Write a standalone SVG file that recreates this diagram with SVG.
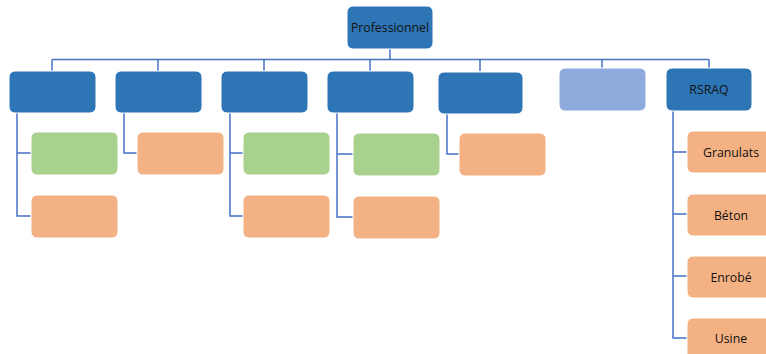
<svg xmlns="http://www.w3.org/2000/svg" width="766" height="354" viewBox="0 0 766 354">
<style>
.dk{fill:#2E75B6;stroke:#ffffff;stroke-width:1}
.lb{fill:#8FAADC;stroke:#ffffff;stroke-width:1}
.gr{fill:#A9D18E;stroke:#ffffff;stroke-width:1}
.or{fill:#F4B183;stroke:#ffffff;stroke-width:1}
.ln{fill:none;stroke:#4472C4;stroke-width:1.5}
text{font-family:"Open Sans","Liberation Sans",sans-serif;font-size:12.3px;fill:#111;text-anchor:middle;dominant-baseline:central}
</style>
<rect width="766" height="354" fill="#ffffff"/>
<g id="connectors">
<path class="ln" d="M390,49V59.5M52,59.5H709M52,59.5V71M158,59.5V71M264,59.5V71M370,59.5V71M480,59.5V71M602,59.5V68M709,59.5V68"/>
<path class="ln" d="M17,113V216H31M17,153H31"/>
<path class="ln" d="M124,113V153H137"/>
<path class="ln" d="M230,113V216H243M230,153H243"/>
<path class="ln" d="M337,113V217H353M337,154H353"/>
<path class="ln" d="M447,114V154H459"/>
<path class="ln" d="M673,111V338H687M673,152H687M673,214H687M673,276H687"/>
</g>
<g id="professionnel"><rect class="dk" x="347" y="6" width="86" height="43" rx="6"/><text x="390" y="27.5">Professionnel</text></g>
<g id="n1"><rect class="dk" x="9" y="71" width="87" height="42" rx="6"/></g>
<g id="n2"><rect class="dk" x="115" y="71" width="87" height="42" rx="6"/></g>
<g id="n3"><rect class="dk" x="221" y="71" width="87" height="42" rx="6"/></g>
<g id="n4"><rect class="dk" x="327" y="71" width="87" height="42" rx="6"/></g>
<g id="n5"><rect class="dk" x="438" y="72" width="85" height="42" rx="6"/></g>
<g id="n6"><rect class="lb" x="559" y="68" width="87" height="43" rx="6"/></g>
<g id="rsraq"><rect class="dk" x="666" y="68" width="86" height="43" rx="6"/><text x="709" y="89.5">RSRAQ</text></g>
<g id="c1a"><rect class="gr" x="31" y="132" width="87" height="43" rx="6"/></g>
<g id="c1b"><rect class="or" x="31" y="195" width="87" height="43" rx="6"/></g>
<g id="c2a"><rect class="or" x="137" y="132" width="87" height="43" rx="6"/></g>
<g id="c3a"><rect class="gr" x="243" y="132" width="87" height="43" rx="6"/></g>
<g id="c3b"><rect class="or" x="243" y="195" width="87" height="43" rx="6"/></g>
<g id="c4a"><rect class="gr" x="353" y="133" width="87" height="43" rx="6"/></g>
<g id="c4b"><rect class="or" x="353" y="196" width="87" height="43" rx="6"/></g>
<g id="c5a"><rect class="or" x="459" y="133" width="87" height="43" rx="6"/></g>
<g id="granulats"><rect class="or" x="687" y="131" width="88" height="42" rx="6"/><text x="731" y="152">Granulats</text></g>
<g id="beton"><rect class="or" x="687" y="194" width="88" height="42" rx="6"/><text x="731" y="215">Béton</text></g>
<g id="enrobe"><rect class="or" x="687" y="256" width="88" height="42" rx="6"/><text x="731" y="277">Enrobé</text></g>
<g id="usine"><rect class="or" x="687" y="318" width="88" height="42" rx="6"/><text x="731" y="338">Usine</text></g>
</svg>
